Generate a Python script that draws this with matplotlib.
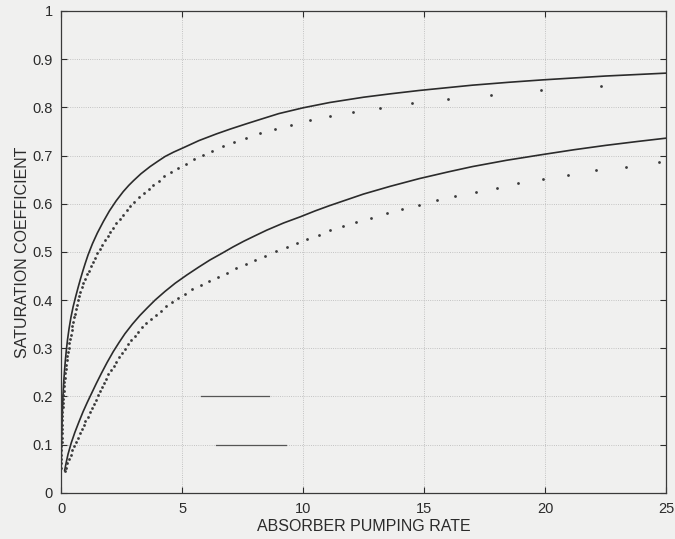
import matplotlib.pyplot as plt

# upper pair (solid = exact, dots = approximation)
upper_solid_x = [0.005, 0.01, 0.02, 0.035, 0.05, 0.08, 0.11, 0.14, 0.18, 0.22, 0.27, 0.33, 0.41,
                 0.50, 0.60, 0.70, 0.80, 0.90, 1.00, 1.12, 1.30, 1.50, 1.75, 2.00, 2.28, 2.57,
                 2.80, 3.00, 3.30, 3.68, 4.00, 4.30, 4.65, 5.05, 5.70, 6.43, 7.00, 7.67, 8.30,
                 9.00, 10.0, 11.1, 12.5, 13.6, 14.8, 16.0, 17.0, 18.5, 19.9, 22.5, 25.0]
upper_solid_y = [0.045, 0.07, 0.10, 0.13, 0.16, 0.20, 0.228, 0.25, 0.275, 0.296, 0.318, 0.34, 0.364,
                 0.386, 0.406, 0.425, 0.443, 0.46, 0.476, 0.494, 0.517, 0.539, 0.563, 0.585, 0.606,
                 0.625, 0.638, 0.648, 0.662, 0.677, 0.688, 0.698, 0.707, 0.716, 0.731, 0.745,
                 0.755, 0.766, 0.776, 0.787, 0.799, 0.810, 0.821, 0.828, 0.835, 0.841, 0.846,
                 0.852, 0.857, 0.865, 0.871]

upper_dot_x = [0.006, 0.008, 0.011, 0.014, 0.016, 0.019, 0.023, 0.027, 0.032, 0.036, 0.041, 0.045,
               0.053, 0.061, 0.069, 0.077, 0.085, 0.095, 0.109, 0.124, 0.138, 0.152, 0.167, 0.190,
               0.215, 0.240, 0.262, 0.288, 0.313, 0.344, 0.375, 0.405, 0.436, 0.466, 0.500, 0.534,
               0.566, 0.600, 0.641, 0.689, 0.737, 0.784, 0.848, 0.920, 0.992, 1.064, 1.138, 1.226,
               1.313, 1.401, 1.500, 1.602, 1.705, 1.808, 1.926, 2.044, 2.150, 2.289, 2.427, 2.567,
               2.717, 2.867, 3.036, 3.228, 3.421, 3.62,
               3.81, 4.03, 4.27, 4.54, 4.84, 5.16, 5.50, 5.86, 6.25, 6.68, 7.14, 7.65, 8.21, 8.83,
               9.52, 10.29, 11.13, 12.08, 13.2, 14.5, 16.0, 17.75, 19.85, 22.3]
upper_dot_y = [0.052, 0.061, 0.070, 0.079, 0.088, 0.097, 0.105, 0.114, 0.123, 0.132, 0.141, 0.150,
               0.159, 0.168, 0.177, 0.186, 0.194, 0.203, 0.212, 0.221, 0.230, 0.239, 0.248, 0.257,
               0.266, 0.275, 0.283, 0.292, 0.301, 0.310, 0.319, 0.328, 0.337, 0.346, 0.355, 0.364,
               0.372, 0.381, 0.390, 0.399, 0.408, 0.417, 0.426, 0.435, 0.444, 0.453, 0.461, 0.470,
               0.479, 0.488, 0.497, 0.506, 0.515, 0.524, 0.533, 0.542, 0.550, 0.559, 0.568, 0.577,
               0.586, 0.595, 0.604, 0.613, 0.622, 0.631,
               0.639, 0.648, 0.657, 0.666, 0.675, 0.683, 0.692, 0.701, 0.710, 0.719, 0.728, 0.737,
               0.746, 0.755, 0.764, 0.773, 0.781, 0.790, 0.799, 0.808, 0.817, 0.826, 0.835, 0.844]

# lower pair
lower_solid_x = [0.15, 0.22, 0.29, 0.42, 0.57, 0.74, 0.91, 1.08, 1.26, 1.46, 1.67, 1.90, 2.16, 2.40,
                 2.64, 2.95, 3.26, 3.57, 3.89, 4.30, 4.72, 5.20, 5.68, 6.15, 6.65, 7.10, 7.55,
                 8.00, 8.50, 9.20, 9.90, 10.5, 11.1, 11.8, 12.5, 13.6, 14.8, 16.0, 17.0, 18.4,
                 19.9, 21.2, 22.5, 23.8, 25.0]
lower_solid_y = [0.046, 0.064, 0.080, 0.103, 0.125, 0.147, 0.168, 0.187, 0.206, 0.227, 0.248, 0.270,
                 0.293, 0.312, 0.330, 0.350, 0.368, 0.384, 0.400, 0.418, 0.435, 0.452, 0.468,
                 0.483, 0.497, 0.510, 0.522, 0.533, 0.545, 0.560, 0.573, 0.585, 0.596, 0.608,
                 0.620, 0.636, 0.652, 0.666, 0.677, 0.690, 0.702, 0.712, 0.721, 0.729, 0.736]

lower_dot_x = [0.15, 0.19, 0.26, 0.33, 0.40, 0.47, 0.53, 0.61, 0.69, 0.77, 0.85, 0.93, 1.01, 1.10,
               1.19, 1.27, 1.35, 1.44, 1.53, 1.61, 1.70, 1.78, 1.87, 1.96, 2.08, 2.19, 2.29, 2.40,
               2.51, 2.63, 2.77, 2.91, 3.06, 3.20, 3.35, 3.52, 3.70, 3.91, 4.12, 4.33, 4.57, 4.83,
               5.12, 5.41, 5.78, 6.10, 6.47, 6.85, 7.24, 7.63, 8.00, 8.44, 8.88, 9.32, 9.76, 10.16,
               10.64,
               11.12, 11.65, 12.2, 12.8, 13.45, 14.1, 14.8, 15.55, 16.3, 17.15, 18.0, 18.9, 19.9,
               20.95, 22.1, 23.35, 24.7]
lower_dot_y = [0.046, 0.052, 0.061, 0.070, 0.079, 0.088, 0.096, 0.105, 0.114, 0.123, 0.132, 0.140,
               0.149, 0.158, 0.167, 0.176, 0.184, 0.193, 0.202, 0.211, 0.220, 0.228, 0.237, 0.246,
               0.255, 0.264, 0.272, 0.281, 0.290, 0.299, 0.308, 0.316, 0.325, 0.334, 0.343, 0.352,
               0.360, 0.369, 0.378, 0.387, 0.396, 0.404, 0.413, 0.422, 0.431, 0.439, 0.448, 0.457,
               0.466, 0.475, 0.483, 0.492, 0.501, 0.510, 0.519, 0.527, 0.536,
               0.545, 0.554, 0.563, 0.571, 0.580, 0.589, 0.598, 0.607, 0.616, 0.624, 0.633, 0.642,
               0.651, 0.660, 0.669, 0.677, 0.686]

# leftover legend line samples (legend text lost in the original)
legend_a_x = [5.77, 8.59]
legend_a_y = [0.2, 0.2]
legend_b_x = [6.39, 9.29]
legend_b_y = [0.1, 0.1]

x_ticks = [0, 5, 10, 15, 20, 25]
y_ticks = [0, 0.1, 0.2, 0.3, 0.4, 0.5, 0.6, 0.7, 0.8, 0.9, 1]
y_ticklabels = ['0', '0.1', '0.2', '0.3', '0.4', '0.5', '0.6', '0.7', '0.8', '0.9', '1']

plt.rcParams['font.family'] = ['Liberation Sans', 'DejaVu Sans']

bg = '#f0f0ef'
ink = '#2b2b2b'

fig = plt.figure(figsize=(6.75, 5.39), dpi=100, facecolor=bg)
ax = fig.add_axes([0.0904, 0.0859, 0.8963, 0.8937], facecolor=bg)

ax.plot(upper_solid_x, upper_solid_y, color=ink, linewidth=1.2)
ax.plot(lower_solid_x, lower_solid_y, color=ink, linewidth=1.2)
ax.plot(upper_dot_x, upper_dot_y, linestyle='none', marker='o', markersize=2.0,
        markerfacecolor='#3a3a3a', markeredgewidth=0)
ax.plot(lower_dot_x, lower_dot_y, linestyle='none', marker='o', markersize=2.0,
        markerfacecolor='#3a3a3a', markeredgewidth=0)
ax.plot(legend_a_x, legend_a_y, color='#555555', linewidth=0.9)
ax.plot(legend_b_x, legend_b_y, color='#555555', linewidth=0.9)

ax.set_xlim(0, 25)
ax.set_ylim(0, 1)
ax.set_xticks(x_ticks)
ax.set_yticks(y_ticks)
ax.set_yticklabels(y_ticklabels)
ax.tick_params(direction='in', top=True, right=True, length=4, width=0.8,
               labelsize=10.5, colors=ink)
ax.tick_params(axis='x', pad=7)
ax.tick_params(axis='y', pad=6)
ax.grid(True, linestyle=':', color='#b5b5b5', linewidth=0.6)
for s in ax.spines.values():
    s.set_color('#3a3a3a')
    s.set_linewidth(0.9)

ax.set_xlabel('ABSORBER PUMPING RATE', fontsize=11.5, color=ink, labelpad=2)
ax.set_ylabel('SATURATION COEFFICIENT', fontsize=11.5, color=ink, labelpad=2)

fig.savefig('out.png', dpi=100, facecolor=bg)
